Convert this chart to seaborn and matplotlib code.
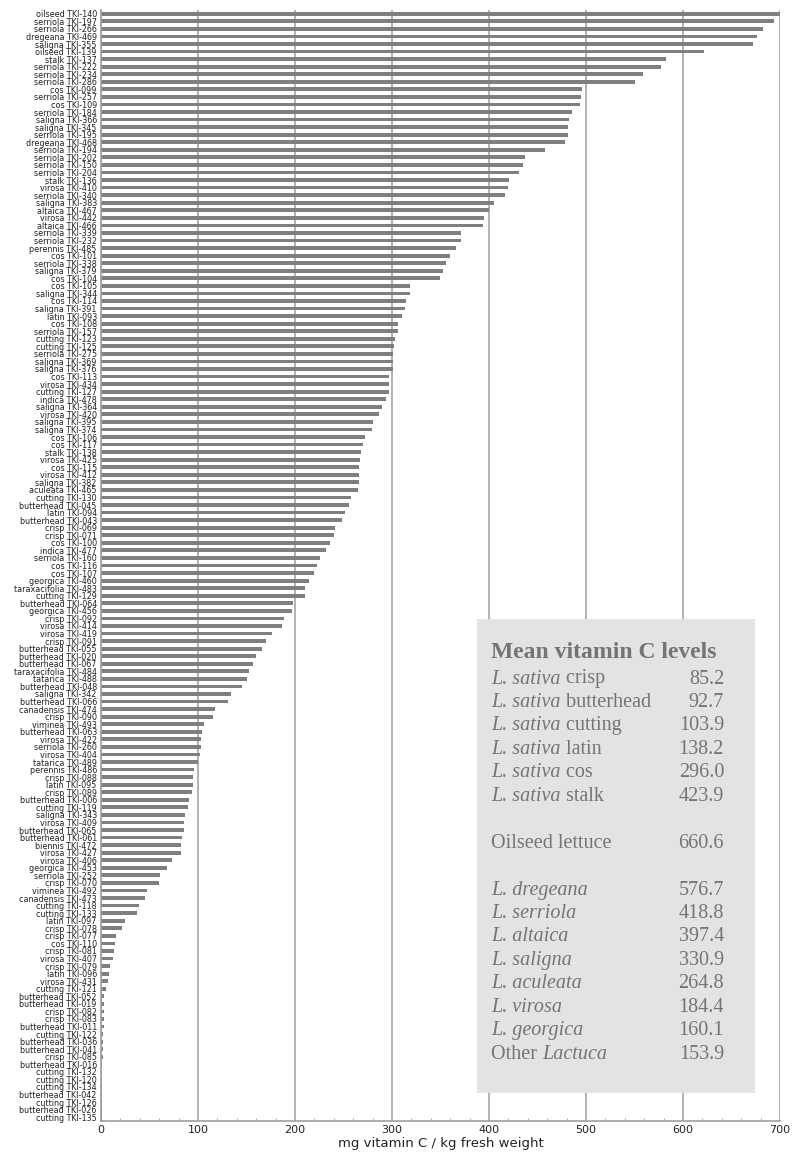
import numpy as np
import pandas as pd
import seaborn as sns
import matplotlib.pyplot as plt
from matplotlib.patches import Rectangle

accessions = [
    'oilseed TKI-140', 'serriola TKI-197', 'serriola TKI-266', 'dregeana TKI-469',
    'saligna TKI-355', 'oilseed TKI-139', 'stalk TKI-137', 'serriola TKI-222',
    'serriola TKI-234', 'serriola TKI-286', 'cos TKI-099', 'serriola TKI-257',
    'cos TKI-109', 'serriola TKI-184', 'saligna TKI-366', 'saligna TKI-345',
    'serriola TKI-195', 'dregeana TKI-468', 'serriola TKI-194', 'serriola TKI-202',
    'serriola TKI-150', 'serriola TKI-204', 'stalk TKI-136', 'virosa TKI-410',
    'serriola TKI-340', 'saligna TKI-383', 'altaica TKI-467', 'virosa TKI-442',
    'altaica TKI-466', 'serriola TKI-339', 'serriola TKI-232', 'perennis TKI-485',
    'cos TKI-101', 'serriola TKI-338', 'saligna TKI-379', 'cos TKI-104',
    'cos TKI-105', 'saligna TKI-344', 'cos TKI-114', 'saligna TKI-391',
    'latin TKI-093', 'cos TKI-108', 'serriola TKI-157', 'cutting TKI-123',
    'cutting TKI-125', 'serriola TKI-275', 'saligna TKI-369', 'saligna TKI-376',
    'cos TKI-113', 'virosa TKI-434', 'cutting TKI-127', 'indica TKI-478',
    'saligna TKI-364', 'virosa TKI-420', 'saligna TKI-395', 'saligna TKI-374',
    'cos TKI-106', 'cos TKI-117', 'stalk TKI-138', 'virosa TKI-425',
    'cos TKI-115', 'virosa TKI-412', 'saligna TKI-382', 'aculeata TKI-465',
    'cutting TKI-130', 'butterhead TKI-045', 'latin TKI-094', 'butterhead TKI-043',
    'crisp TKI-069', 'crisp TKI-071', 'cos TKI-100', 'indica TKI-477',
    'serriola TKI-160', 'cos TKI-116', 'cos TKI-107', 'georgica TKI-460',
    'taraxacifolia TKI-483', 'cutting TKI-129', 'butterhead TKI-064', 'georgica TKI-456',
    'crisp TKI-092', 'virosa TKI-414', 'virosa TKI-419', 'crisp TKI-091',
    'butterhead TKI-055', 'butterhead TKI-020', 'butterhead TKI-067', 'taraxacifolia TKI-484',
    'tatarica TKI-488', 'butterhead TKI-048', 'saligna TKI-342', 'butterhead TKI-066',
    'canadensis TKI-474', 'crisp TKI-090', 'viminea TKI-493', 'butterhead TKI-063',
    'virosa TKI-422', 'serriola TKI-260', 'virosa TKI-404', 'tatarica TKI-489',
    'perennis TKI-486', 'crisp TKI-088', 'latin TKI-095', 'crisp TKI-089',
    'butterhead TKI-006', 'cutting TKI-119', 'saligna TKI-343', 'virosa TKI-409',
    'butterhead TKI-065', 'butterhead TKI-061', 'biennis TKI-472', 'virosa TKI-427',
    'virosa TKI-406', 'georgica TKI-453', 'serriola TKI-252', 'crisp TKI-070',
    'viminea TKI-492', 'canadensis TKI-473', 'cutting TKI-118', 'cutting TKI-133',
    'latin TKI-097', 'crisp TKI-078', 'crisp TKI-077', 'cos TKI-110',
    'crisp TKI-081', 'virosa TKI-407', 'crisp TKI-079', 'latin TKI-096',
    'virosa TKI-431', 'cutting TKI-121', 'butterhead TKI-052', 'butterhead TKI-019',
    'crisp TKI-082', 'crisp TKI-083', 'butterhead TKI-011', 'cutting TKI-122',
    'butterhead TKI-036', 'butterhead TKI-041', 'crisp TKI-085', 'butterhead TKI-016',
    'cutting TKI-132', 'cutting TKI-120', 'cutting TKI-134', 'butterhead TKI-042',
    'cutting TKI-126', 'butterhead TKI-026', 'cutting TKI-135',
]

vitc = [
    700, 694, 682, 676, 672, 622, 582, 577, 559, 550, 496, 495, 494, 486,
    482, 481, 481, 478, 458, 437, 435, 431, 421, 420, 416, 405, 400,
    395, 394, 371, 371, 366, 360, 356, 353, 349, 319, 319, 314, 313, 310,
    306, 306, 303, 302, 301, 301, 301, 297, 297, 297, 294, 290, 287, 280,
    279, 272, 270, 268, 267, 266, 266, 266, 265, 258, 256, 252, 248, 241,
    240, 236, 232, 226, 223, 220, 214, 210, 210, 198, 197, 189, 187, 176,
    170, 166, 160, 157, 153, 151, 145, 134, 131, 118, 115, 106, 104,
    103, 103, 102, 99.5, 96, 95, 95, 94, 91, 90, 87, 86, 86, 84,
    82, 82, 73, 68, 61, 60, 47, 45, 39, 37, 25, 22, 15, 14,
    13, 12, 9, 8, 7, 5, 3.5, 3.5, 3, 3, 3, 2.5, 2, 2, 2, 1.5,
    1.5, 1.5, 1.5, 1.5, 1, 1, 0.8,
]

# summary box: italic part, upright part, mean
mean_italic = ['L. sativa', 'L. sativa', 'L. sativa', 'L. sativa', 'L. sativa', 'L. sativa',
               '', 'L. dregeana', 'L. serriola', 'L. altaica', 'L. saligna',
               'L. aculeata', 'L. virosa', 'L. georgica', 'Lactuca']
mean_plain = ['crisp', 'butterhead', 'cutting', 'latin', 'cos', 'stalk',
              'Oilseed lettuce', '', '', '', '', '', '', '', 'Other']
mean_values = [85.2, 92.7, 103.9, 138.2, 296.0, 423.9, 660.6,
               576.7, 418.8, 397.4, 330.9, 264.8, 184.4, 160.1, 153.9]
# row slot of each line in the box (blank rows between the groups)
mean_rows = [0, 1, 2, 3, 4, 5, 7, 9, 10, 11, 12, 13, 14, 15, 16]

sns.set_style('white')
plt.rcParams['font.family'] = 'DejaVu Sans'

W, H = 793, 1154
fig = plt.figure(figsize=(W / 100, H / 100), dpi=100)
ax = fig.add_axes([101 / W, 1 - 1121 / H, 679 / W, 1111 / H])

df = pd.DataFrame({'accession': accessions, 'vitc': vitc})
sns.barplot(data=df, x='vitc', y='accession', orient='h', color='#7f7f7f',
            saturation=1, width=0.5, edgecolor='none', ax=ax)

n = len(accessions)
ax.set_xlim(0, 700)
ax.set_ylim(n - 0.5, -0.5)
ax.set_xticks(range(0, 701, 100))
ax.set_xticks(np.arange(0, 701, 20), minor=True)
ax.set_yticks(np.arange(-0.5, n, 1), minor=True)
ax.grid(axis='x', which='major', color='#a6a6a6', lw=1.2)
ax.set_axisbelow(True)
for s in ['top', 'right']:
    ax.spines[s].set_visible(False)
for s in ['left', 'bottom']:
    ax.spines[s].set_color('#a0a0a0')
    ax.spines[s].set_linewidth(1.2)
ax.tick_params(axis='y', which='major', length=0, labelsize=5.8, pad=3, labelcolor='#222222')
ax.tick_params(axis='y', which='minor', length=2.5, color='#a0a0a0', direction='out')
ax.tick_params(axis='x', which='major', length=3, color='#a0a0a0', direction='in',
               labelsize=8, labelcolor='#222222', pad=3)
ax.tick_params(axis='x', which='minor', length=2.5, color='#a0a0a0', direction='in', bottom=True)
ax.set_ylabel('')
ax.set_xlabel('mg vitamin C / kg fresh weight', fontsize=9.5, color='#222222', labelpad=1)

# summary box
fig.add_artist(Rectangle((477 / W, 1 - 1093 / H), 278 / W, 474 / H,
                         transform=fig.transFigure, facecolor='#e3e3e3',
                         edgecolor='none', zorder=5))
tcol = '#747474'
fs = 14.5
fig.text(491 / W, 1 - 653 / H, 'Mean vitamin C levels', family='Liberation Serif',
         fontsize=17, fontweight='bold', color=tcol, va='center', ha='left', zorder=6)

renderer = fig.canvas.get_renderer()
for it, pl, val, r in zip(mean_italic, mean_plain, mean_values, mean_rows):
    y = 1 - (679 + 23.45 * r) / H
    x = 491 / W
    # "Other" comes before the italic word, the sativa groups after it
    parts = [(pl, 'normal'), (it, 'italic')] if pl == 'Other' else [(it, 'italic'), (pl, 'normal')]
    for txt, style in parts:
        if not txt:
            continue
        t = fig.text(x, y, txt + ' ', family='Liberation Serif', fontsize=fs, style=style,
                     color=tcol, va='center', ha='left', zorder=6)
        bb = t.get_window_extent(renderer)
        x = bb.x1 / fig.bbox.width
    fig.text(724 / W, y, f'{val:.1f}', family='Liberation Serif', fontsize=fs,
             color=tcol, va='center', ha='right', zorder=6)

fig.savefig('out.png', dpi=100)
